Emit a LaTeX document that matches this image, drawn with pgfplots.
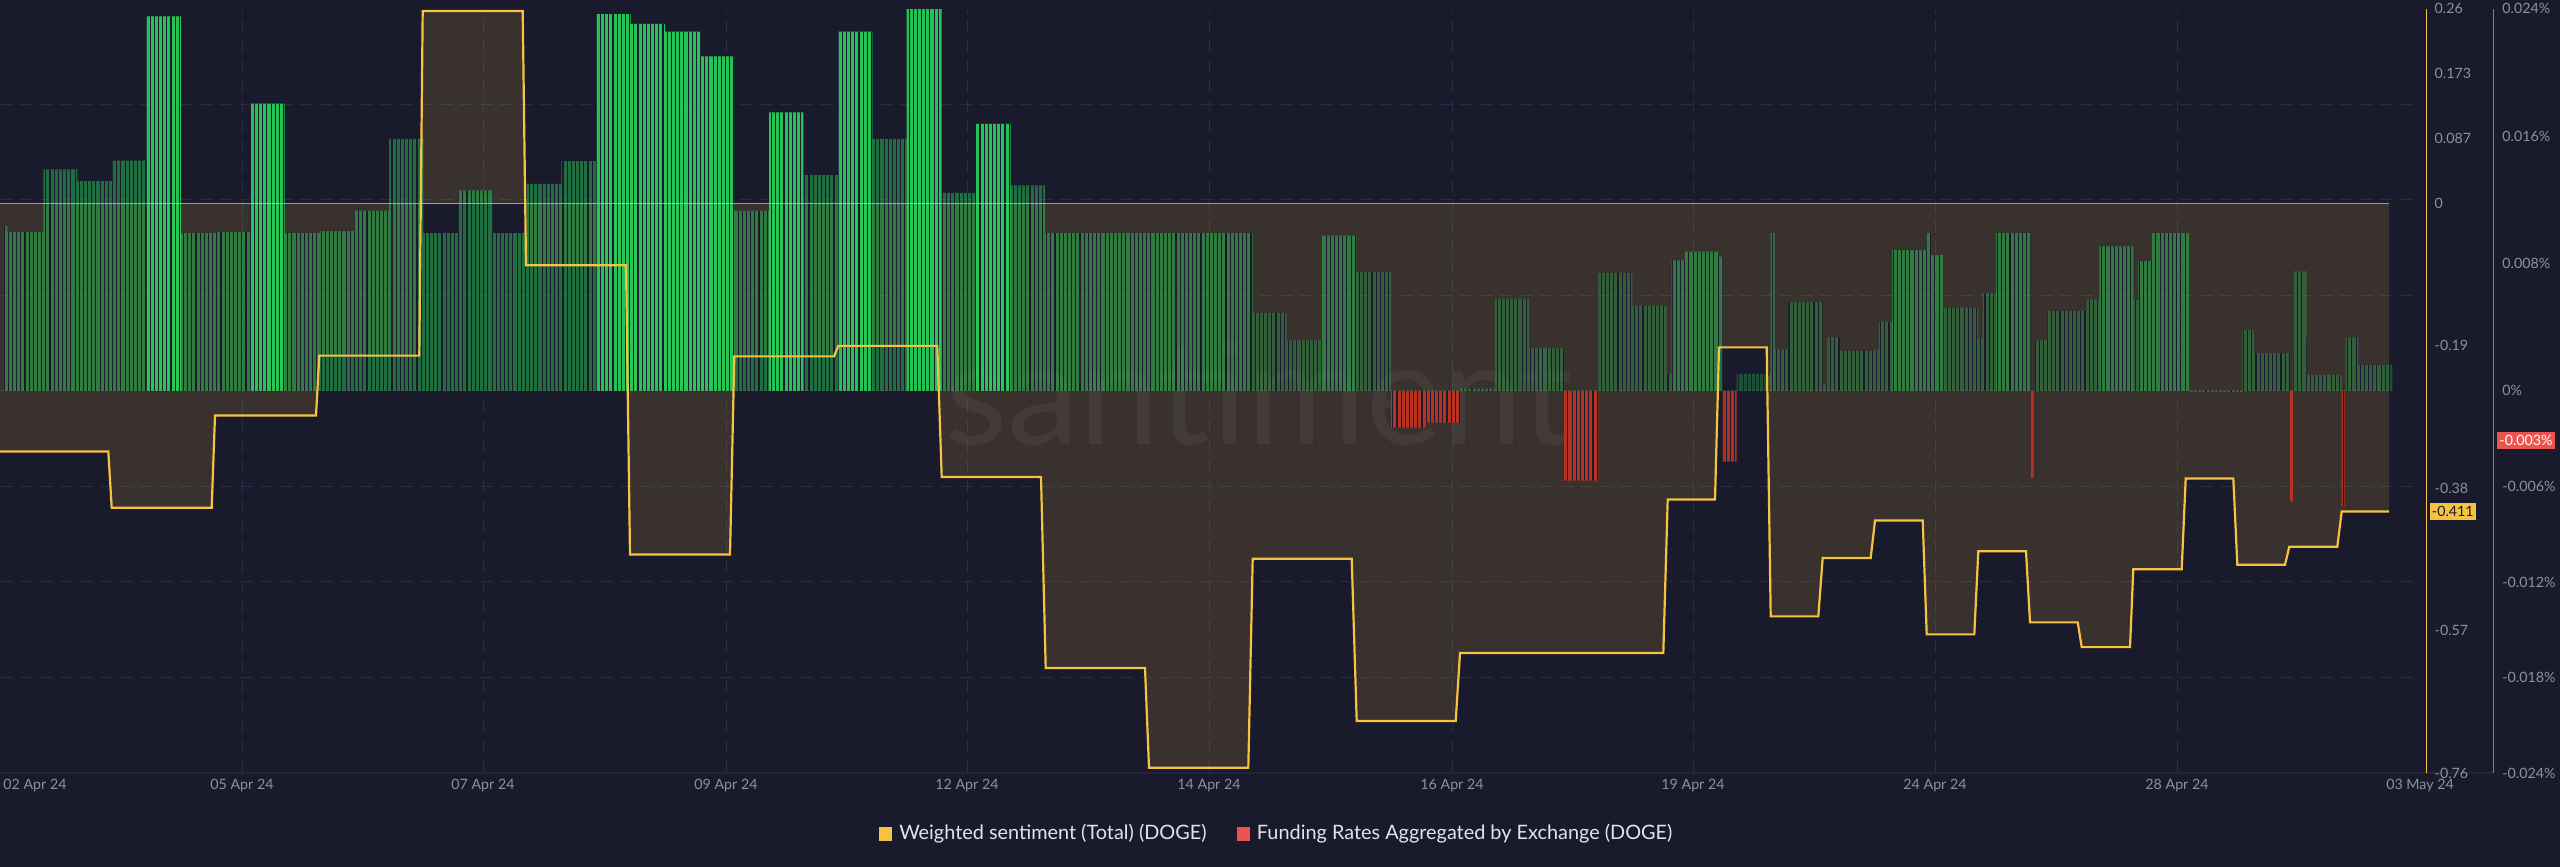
\documentclass[border=0pt]{standalone}
\usepackage{fontspec}
\setmainfont{Lato}
\usepackage{pgfplots}
\pgfplotsset{compat=1.18}
\usepackage{pgfplotstable}
\usetikzlibrary{patterns.meta}

\definecolor{bgc}{HTML}{191A2B}
\definecolor{senty}{HTML}{F5C242}
\definecolor{fundr}{HTML}{EE5350}
\definecolor{gridc}{HTML}{2A2C40}
\definecolor{tickc}{HTML}{8C91A0}
\definecolor{legc}{HTML}{E4E4E8}
\definecolor{barg}{RGB}{40,225,95}
\definecolor{barr}{RGB}{205,50,30}

% funding rate (%), one row per 8h step: start x (px), value
\pgfplotstableread{
x v
0 0
4.0 0.01035
7.3 0.00996
43.3 0.01391
77.3 0.01317
112.3 0.01445
146.7 0.02352
181 0.0099
215.7 0.00996
250 0.01804
284.7 0.0099
319.7 0.01003
354.3 0.01131
389 0.01583
423.3 0.0099
458.3 0.01259
492.3 0.0099
526.7 0.0130
561.3 0.01442
596.3 0.02365
630.7 0.02304
665 0.02256
700 0.0210
734 0.01131
769 0.01749
803.3 0.01355
838.3 0.02256
872.3 0.01583
906.7 0.02397
941.7 0.01243
976 0.01676
1010.7 0.01291
1045 0.0099
1252.7 0.0049
1286.7 0.00317
1321.7 0.00974
1356.3 0.00747
1391 -0.00231
1425.7 -0.00199
1460 0.00016
1495 0.0058
1529 0.00266
1564 -0.00564
1598.3 0.0074
1632.3 0.00532
1666.7 0.00106
1671.7 0.0082
1685 0.00875
1718.3 0.00843
1722.7 -0.00445
1736.7 0.00106
1770.7 0.0099
1774.5 0.0026
1788.3 0.00557
1822.7 0.0004
1827.3 0.00336
1840 0.0025
1874 0.00263
1879 0.00433
1892 0.00884
1926.7 0.0099
1931 0.00852
1943.3 0.00522
1978.3 0.00324
1982.7 0.00612
1996 0.0099
2030.7 -0.00548
2033.7 0
2035 0.00317
2047.3 0.005
2081.7 0.00506
2086.7 0.00574
2099.3 0.00907
2133.3 0.0057
2138.3 0.00814
2151.7 0.0099
2189.3 -0.00006
2242.3 0.00381
2254 0.00237
2290 -0.00695
2293 0
2294 0.0075
2306.7 0.001
2341.7 -0.00727
2344.7 0
2345.7 0.00336
2358.3 0.00163
2392.3 0
}\funding

% weighted sentiment, step line
\pgfplotstableread{
x s
0 -0.331
108.3 -0.331
111.7 -0.406
211.7 -0.406
215 -0.283
316 -0.283
319.3 -0.203
419.3 -0.203
422.7 0.257
522.7 0.257
526 -0.0824
626 -0.0824
630 -0.4685
730 -0.4685
734.3 -0.204
834 -0.204
838.3 -0.190
937.3 -0.190
941.7 -0.365
1041 -0.365
1045.7 -0.620
1145 -0.620
1149 -0.753
1248.3 -0.753
1252.7 -0.474
1351.7 -0.474
1356.7 -0.6905
1455.7 -0.6905
1460 -0.600
1663.3 -0.600
1667.7 -0.395
1715 -0.395
1719 -0.192
1766.7 -0.192
1770.7 -0.551
1818.3 -0.551
1822.7 -0.473
1870.7 -0.473
1875 -0.423
1922.7 -0.423
1926.7 -0.575
1974.3 -0.575
1978.3 -0.464
2026 -0.464
2030 -0.559
2077.7 -0.559
2081.7 -0.592
2130 -0.592
2133.3 -0.488
2181.7 -0.488
2185.7 -0.367
2233.3 -0.367
2237.3 -0.482
2285 -0.482
2289.3 -0.458
2337.3 -0.458
2341.7 -0.411
2389 -0.411
}\sentiment

\tikzset{
  stripes/.style={postaction={pattern={Lines[angle=90,distance=0.417mm,line width=0.11mm]},
    pattern color=bgc, fill opacity=0.35}},
  gline/.style={gridc, line width=0.1mm, dash pattern=on 1.25mm off 0.75mm},
}
\pgfplotsset{
  base/.style={scale only axis, height=76.43mm, xmin=0, at={(0,0)}, anchor=south west,
    clip mode=individual, major tick length=0pt,
    tick label style={font=\fontsize{4.05}{4.6}\selectfont, text=tickc}},
  sent/.style={base, width=242.67mm, xmax=2426.7, ymin=-0.76, ymax=0.26},
  fund/.style={base, width=249.33mm, xmax=2493.3, ymin=-0.024, ymax=0.024},
}

\begin{document}
\begin{tikzpicture}
\path[use as bounding box, fill=bgc] (0,-9.4mm) rectangle (256mm,77.3mm);

% grid, dates and the funding-rate axis
\begin{axis}[fund,
  axis y line*=right, axis x line*=bottom,
  x axis line style={draw=gridc!60!bgc},
  y axis line style={draw=fundr, line width=0.12mm},
  ytick={-0.024,-0.018,-0.012,-0.006,0,0.008,0.016,0.024},
  yticklabels={-0.024\%,-0.018\%,-0.012\%,-0.006\%,0\%,0.008\%,0.016\%,0.024\%},
  yticklabel style={anchor=west, inner sep=0pt, xshift=0.84mm},
  xtick={242,483,726,967,1209,1452,1693,1935,2177},
  xticklabels={05 Apr 24,07 Apr 24,09 Apr 24,12 Apr 24,14 Apr 24,16 Apr 24,19 Apr 24,24 Apr 24,28 Apr 24},
  extra x ticks={35,2420},
  extra x tick labels={02 Apr 24,03 May 24},
  extra x tick style={xmajorgrids=false},
  xmajorgrids, major grid style={gline},
  xticklabel style={anchor=center, inner sep=0pt, yshift=-1.27mm},
]
\pgfplotsinvokeforeach{-0.018,-0.012,-0.006,0.006,0.012,0.018}{
  \draw[gline] (axis cs:0,#1) -- (axis cs:2417,#1);
}
\node[fill=fundr, text=white, inner sep=0pt, minimum width=5.8mm, minimum height=1.76mm,
  font=\fontsize{4.05}{4.6}\selectfont] at (axis cs:2526,-0.00312) {-0.003\%};
\end{axis}

% sentiment area
\begin{axis}[sent, hide axis]
\addplot[draw=none, fill=senty, fill opacity=0.14] table[x=x,y=s]{\sentiment}
  -- (axis cs:2389,0) -- (axis cs:0,0) -- cycle;
\node[text=white, opacity=0.05, font=\fontsize{41}{41}\selectfont, anchor=base]
  at (axis cs:1276,-0.321) {santiment.};
\end{axis}

% funding-rate bars
\begin{axis}[fund, hide axis]
\addplot[ybar interval, draw=none, fill=barg, fill opacity=0.85, stripes]
  table[x=x, y expr={(\thisrow{v}>=0.0165) ? \thisrow{v} : 0}]{\funding};
\addplot[ybar interval, draw=none, fill=barg, fill opacity=0.42, stripes]
  table[x=x, y expr={(\thisrow{v}<0.008) ? 0 : ((\thisrow{v}<0.0165) ? \thisrow{v} : 0)}]{\funding};
\addplot[ybar interval, draw=none, fill=barg, fill opacity=0.27, stripes]
  table[x=x, y expr={(\thisrow{v}<0) ? 0 : ((\thisrow{v}<0.008) ? \thisrow{v} : 0)}]{\funding};
\addplot[ybar interval, draw=none, fill=barr, fill opacity=0.85, stripes]
  table[x=x, y expr={(\thisrow{v}<0) ? \thisrow{v} : 0}]{\funding};
\end{axis}

% sentiment line, its axis and the legend
\begin{axis}[sent,
  axis y line*=right, axis x line=none,
  y axis line style={draw=senty, line width=0.12mm},
  ytick={-0.76,-0.57,-0.38,-0.19,0,0.087,0.173,0.26},
  yticklabels={-0.76,-0.57,-0.38,-0.19,0,0.087,0.173,0.26},
  yticklabel style={anchor=west, inner sep=0pt, xshift=0.73mm},
  legend style={at={(0.5271,-0.0798)}, anchor=center, draw=none, fill=none,
    legend columns=2, font=\fontsize{5.65}{6.6}\selectfont, text=legc,
    /tikz/every even column/.append style={column sep=2.3mm}},
]
\addplot[senty, line width=0.22mm, forget plot] table[x=x,y=s]{\sentiment};
\addplot[senty, opacity=0.75, line width=0.1mm, forget plot] coordinates {(0,0) (2389,0)};
\addlegendimage{legend image code/.code={\fill[senty] (0mm,-0.65mm) rectangle (1.2mm,0.65mm);}}
\addlegendentry{Weighted sentiment (Total) (DOGE)}
\addlegendimage{legend image code/.code={\fill[fundr] (0mm,-0.65mm) rectangle (1.2mm,0.65mm);}}
\addlegendentry{Funding Rates Aggregated by Exchange (DOGE)}
\node[fill=senty, text=bgc, inner sep=0pt, minimum width=4.57mm, minimum height=1.66mm,
  font=\fontsize{4.05}{4.6}\selectfont] at (axis cs:2452.8,-0.411) {-0.411};
\end{axis}
\end{tikzpicture}
\end{document}
